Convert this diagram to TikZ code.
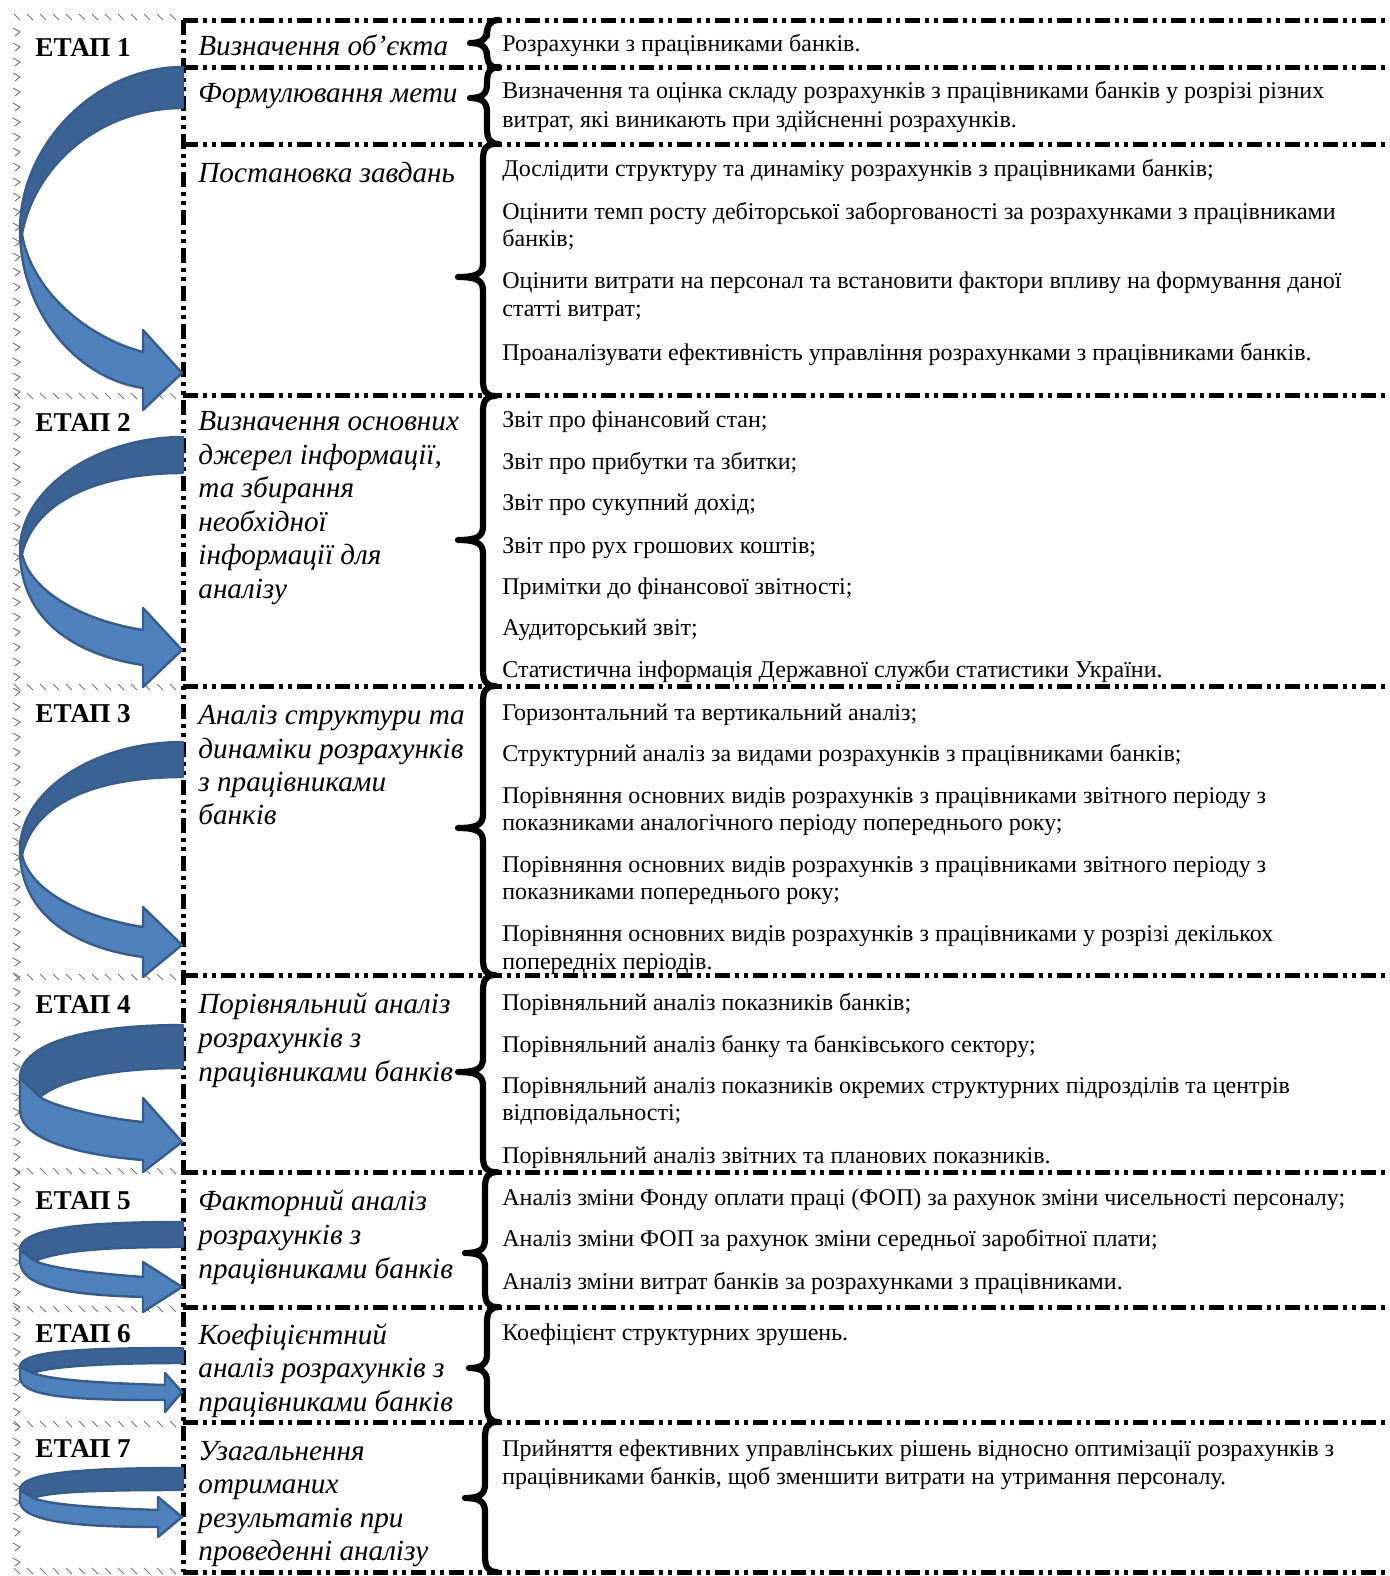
\documentclass[tikz,border=0pt]{standalone}
\usepackage{fontspec}
\setmainfont{Liberation Serif}
\definecolor{arrowdark}{HTML}{3C6395}
\definecolor{arrowlight}{HTML}{4F81BD}
\definecolor{arrowedge}{HTML}{385D8A}
\newcommand\mybrace[5]{% top, bottom, tip y, depth, spine x
  \draw[bracestyle] (#5+12,#1) .. controls (#5+3,#1) and (#5,#1+5) .. (#5,#1+16)
    -- (#5,#3-14) .. controls (#5,#3-4) and (#5-5,#3) .. (#5-#4,#3)
    .. controls (#5-5,#3) and (#5,#3+4) .. (#5,#3+14)
    -- (#5,#2-16) .. controls (#5,#2-5) and (#5+3,#2) .. (#5+12,#2);}
\begin{document}
\begin{tikzpicture}[x=0.5pt,y=-0.5pt,
  stagelbl/.style={font=\fontsize{13.6}{15}\selectfont\bfseries, anchor=base west, inner sep=0pt},
  lefttxt/.style={font=\fontsize{14.6}{16}\selectfont\itshape, anchor=base west, inner sep=0pt},
  righttxt/.style={font=\fontsize{12}{14}\selectfont, anchor=base west, inner sep=0pt},
  divider/.style={line width=2.5pt, dash pattern=on 7.5pt off 2.5pt on 2pt off 2.5pt on 2pt off 2.5pt},
  bracestyle/.style={line width=3.1pt, line cap=round, line join=round},
  hatch/.style={black!55, line width=0.45pt},
  arrback/.style={fill=arrowdark, draw=arrowedge, line width=1.2pt, line join=round},
  arrfront/.style={fill=arrowlight, draw=arrowedge, line width=1.2pt, line join=round}]
\useasboundingbox (0,0) rectangle (1389,1576);
\fill[white] (0,0) rectangle (1389,1576);

% hatched frame on the left
\foreach \yy in {18,397,688,978,1172,1310,1425,1572}{
  \foreach \xx in {14,27,...,170}{
    \draw[hatch] (\xx,\yy-4) -- (\xx+6,\yy+2);
  }
}
\foreach \yy in {32,47,...,1562}{
  \draw[hatch] (13,\yy-4) -- (20,\yy) -- (15,\yy+4);
}

% dividers
\coordinate (vtop) at (183,20);
\coordinate (vbot) at (183,1572);
\draw[divider] (vtop) -- (vbot);
\foreach \yy in {20,67,144,395,686,975,1172,1307,1422,1572}{
  \draw[divider] (183,\yy) -- (1389,\yy);
}

% braces
\mybrace{20}{68}{43}{17}{487}
\mybrace{67}{144}{98}{17}{487}
\mybrace{144}{396}{277}{25}{483}
\mybrace{396}{686}{540}{25}{483}
\mybrace{686}{975}{828}{25}{483}
\mybrace{975}{1172}{1072}{25}{483}
\mybrace{1172}{1307}{1253}{20}{485}
\mybrace{1307}{1422}{1368}{18}{487}
\mybrace{1422}{1572}{1498}{20}{485}

% curved arrows
% stage 1
\draw[arrback] (183,67) .. controls (95,67) and (20,145) .. (20,230) -- (22,234) .. controls (35,165) and (100,108) .. (183,108) -- cycle;
\draw[arrfront] (20,230) .. controls (20,310) and (75,378) .. (143,388) -- (143,410) -- (182,373) -- (143,330) -- (143,352) .. controls (80,335) and (30,285) .. (22,234) -- cycle;
% stage 2
\draw[arrback] (183,437) .. controls (95,437) and (20,490) .. (20,550) -- (22,554) .. controls (35,500) and (100,473) .. (183,473) -- cycle;
\draw[arrfront] (20,550) .. controls (20,620) and (75,655) .. (143,665) -- (143,687) -- (182,650) -- (143,608) -- (143,630) .. controls (80,620) and (30,590) .. (22,554) -- cycle;
% stage 3
\draw[arrback] (183,742) .. controls (95,742) and (20,790) .. (20,850) -- (22,855) .. controls (35,800) and (100,777) .. (183,777) -- cycle;
\draw[arrfront] (20,850) .. controls (20,915) and (75,948) .. (143,957) -- (143,977) -- (182,945) -- (143,907) -- (143,927) .. controls (80,917) and (30,890) .. (22,855) -- cycle;
% stage 4
\draw[arrback] (183,1025) .. controls (80,1025) and (20,1045) .. (20,1078) -- (40,1097) .. controls (60,1080) and (110,1068) .. (183,1068) -- cycle;
\draw[arrfront] (20,1078) -- (20,1110) .. controls (20,1140) and (80,1155) .. (143,1160) -- (143,1172) -- (182,1142) -- (143,1098) -- (143,1122) .. controls (100,1118) and (50,1105) .. (40,1097) -- cycle;
% stage 5
\draw[arrback] (183,1222) .. controls (70,1222) and (20,1230) .. (20,1250) -- (35,1261) .. controls (60,1250) and (110,1247) .. (183,1247) -- cycle;
\draw[arrfront] (20,1250) -- (20,1262) .. controls (22,1290) and (80,1295) .. (143,1297) -- (143,1312) -- (182,1287) -- (143,1262) -- (143,1277) .. controls (90,1273) and (50,1268) .. (35,1261) -- cycle;
% stage 6
\draw[arrback] (183,1348) .. controls (70,1348) and (20,1352) .. (20,1367) -- (33,1373) .. controls (50,1366) and (110,1363) .. (183,1363) -- cycle;
\draw[arrfront] (20,1367) -- (20,1378) .. controls (22,1398) and (80,1400) .. (165,1400) -- (165,1412) -- (182,1392) -- (165,1373) -- (165,1385) .. controls (100,1383) and (50,1380) .. (33,1373) -- cycle;
% stage 7
\draw[arrback] (183,1468) .. controls (70,1468) and (20,1474) .. (20,1490) -- (33,1498) .. controls (50,1491) and (110,1490) .. (183,1490) -- cycle;
\draw[arrfront] (20,1490) -- (20,1502) .. controls (22,1522) and (80,1527) .. (158,1527) -- (158,1537) -- (182,1517) -- (158,1497) -- (158,1510) .. controls (100,1508) and (50,1505) .. (33,1498) -- cycle;

% stage labels
\node[stagelbl] (s1) at (35,56) {ЕТАП 1};
\node[stagelbl] (s2) at (35,431) {ЕТАП 2};
\node[stagelbl] (s3) at (35,722) {ЕТАП 3};
\node[stagelbl] (s4) at (35,1013) {ЕТАП 4};
\node[stagelbl] (s5) at (35,1209) {ЕТАП 5};
\node[stagelbl] (s6) at (35,1342) {ЕТАП 6};
\node[stagelbl] (s7) at (35,1457) {ЕТАП 7};

% left texts
\node[lefttxt] (l1) at (198,55) {Визначення об’єкта};
\node[lefttxt] (l2) at (198,102) {Формулювання мети};
\node[lefttxt] (l3) at (198,182) {Постановка завдань};
\node[lefttxt] (l4a) at (198,430) {Визначення основних};
\node[lefttxt] (l4b) at (198,464) {джерел інформації,};
\node[lefttxt] (l4c) at (198,497) {та збирання};
\node[lefttxt] (l4d) at (198,531) {необхідної};
\node[lefttxt] (l4e) at (198,564) {інформації для};
\node[lefttxt] (l4f) at (198,598) {аналізу};
\node[lefttxt] (l5a) at (198,724) {Аналіз структури та};
\node[lefttxt] (l5b) at (198,758) {динаміки розрахунків};
\node[lefttxt] (l5c) at (198,791) {з працівниками};
\node[lefttxt] (l5d) at (198,824) {банків};
\node[lefttxt] (l6a) at (198,1013) {Порівняльний аналіз};
\node[lefttxt] (l6b) at (198,1047) {розрахунків з};
\node[lefttxt] (l6c) at (198,1081) {працівниками банків};
\node[lefttxt] (l7a) at (198,1210) {Факторний аналіз};
\node[lefttxt] (l7b) at (198,1244) {розрахунків з};
\node[lefttxt] (l7c) at (198,1278) {працівниками банків};
\node[lefttxt] (l8a) at (198,1344) {Коефіцієнтний};
\node[lefttxt] (l8b) at (198,1377) {аналіз розрахунків з};
\node[lefttxt] (l8c) at (198,1411) {працівниками банків};
\node[lefttxt] (l9a) at (198,1460) {Узагальнення};
\node[lefttxt] (l9b) at (198,1493) {отриманих};
\node[lefttxt] (l9c) at (198,1527) {результатів при};
\node[lefttxt] (l9d) at (198,1560) {проведенні аналізу};

% right texts
\node[righttxt] (r1) at (502,51) {Розрахунки з працівниками банків.};
\node[righttxt] (r2a) at (502,98) {Визначення та оцінка складу розрахунків з працівниками банків у розрізі різних};
\node[righttxt] (r2b) at (502,127) {витрат, які виникають при здійсненні розрахунків.};
\node[righttxt] (r3a) at (502,176) {Дослідити структуру та динаміку розрахунків з працівниками банків;};
\node[righttxt] (r3b) at (502,219) {Оцінити темп росту дебіторської заборгованості за розрахунками з працівниками};
\node[righttxt] (r3c) at (502,246) {банків;};
\node[righttxt] (r3d) at (502,288) {Оцінити витрати на персонал та встановити фактори впливу на формування даної};
\node[righttxt] (r3e) at (502,316) {статті витрат;};
\node[righttxt] (r3f) at (502,360) {Проаналізувати ефективність управління розрахунками з працівниками банків.};
\node[righttxt] (r4a) at (502,427) {Звіт про фінансовий стан;};
\node[righttxt] (r4b) at (502,469) {Звіт про прибутки та збитки;};
\node[righttxt] (r4c) at (502,510) {Звіт про сукупний дохід;};
\node[righttxt] (r4d) at (502,553) {Звіт про рух грошових коштів;};
\node[righttxt] (r4e) at (502,594) {Примітки до фінансової звітності;};
\node[righttxt] (r4f) at (502,635) {Аудиторський звіт;};
\node[righttxt] (r4g) at (502,677) {Статистична інформація Державної служби статистики України.};
\node[righttxt] (r5a) at (502,720) {Горизонтальний та вертикальний аналіз;};
\node[righttxt] (r5b) at (502,761) {Структурний аналіз за видами розрахунків з працівниками банків;};
\node[righttxt] (r5c) at (502,803) {Порівняння основних видів розрахунків з працівниками звітного періоду з};
\node[righttxt] (r5d) at (502,830) {показниками аналогічного періоду попереднього року;};
\node[righttxt] (r5e) at (502,872) {Порівняння основних видів розрахунків з працівниками звітного періоду з};
\node[righttxt] (r5f) at (502,899) {показниками попереднього року;};
\node[righttxt] (r5g) at (502,941) {Порівняння основних видів розрахунків з працівниками у розрізі декількох};
\node[righttxt] (r5h) at (502,969) {попередніх періодів.};
\node[righttxt] (r6a) at (502,1010) {Порівняльний аналіз показників банків;};
\node[righttxt] (r6b) at (502,1052) {Порівняльний аналіз банку та банківського сектору;};
\node[righttxt] (r6c) at (502,1093) {Порівняльний аналіз показників окремих структурних підрозділів та центрів};
\node[righttxt] (r6d) at (502,1120) {відповідальності;};
\node[righttxt] (r6e) at (502,1163) {Порівняльний аналіз звітних та планових показників.};
\node[righttxt] (r7a) at (502,1205) {Аналіз зміни Фонду оплати праці (ФОП) за рахунок зміни чисельності персоналу;};
\node[righttxt] (r7b) at (502,1246) {Аналіз зміни ФОП за рахунок зміни середньої заробітної плати;};
\node[righttxt] (r7c) at (502,1289) {Аналіз зміни витрат банків за розрахунками з працівниками.};
\node[righttxt] (r8) at (502,1340) {Коефіцієнт структурних зрушень.};
\node[righttxt] (r9a) at (502,1456) {Прийняття ефективних управлінських рішень відносно оптимізації розрахунків з};
\node[righttxt] (r9b) at (502,1484) {працівниками банків, щоб зменшити витрати на утримання персоналу.};
\end{tikzpicture}
\end{document}
